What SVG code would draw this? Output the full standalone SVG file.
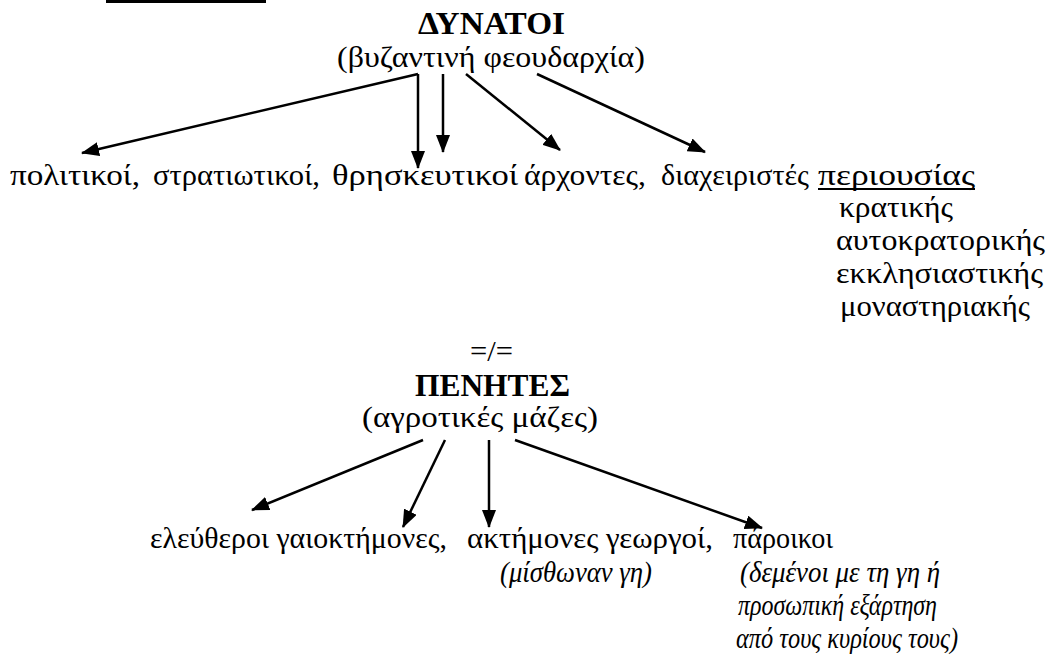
<svg xmlns="http://www.w3.org/2000/svg" width="1053" height="664" viewBox="0 0 1053 664">
<style>
text{font-family:"Liberation Serif","Times New Roman",serif;fill:#000;white-space:pre;}
.t{font-size:30px;}
.b{font-size:31px;font-weight:bold;}
.i{font-size:30px;font-style:italic;}
.arr{stroke:#000;stroke-width:2.5;fill:none;marker-end:url(#ah);}
</style>
<defs>
<marker id="ah" markerUnits="userSpaceOnUse" markerWidth="18" markerHeight="14" refX="17" refY="7" orient="auto">
<path d="M0,0 L18,7 L0,14 z" fill="#000"/>
</marker>
</defs>
<rect x="106" y="0" width="160" height="3" fill="#000"/>
<g id="dynatoi">
<text class="b" x="418" y="34" textLength="147" lengthAdjust="spacingAndGlyphs">ΔΥΝΑΤΟΙ</text>
<text class="t" x="337" y="67" textLength="308" lengthAdjust="spacingAndGlyphs">(βυζαντινή φεουδαρχία)</text>
</g>
<g id="dynatoi-types">
<text class="t" x="10" y="185" textLength="130" lengthAdjust="spacingAndGlyphs">πολιτικοί,</text>
<text class="t" x="153" y="185" textLength="167" lengthAdjust="spacingAndGlyphs">στρατιωτικοί,</text>
<text class="t" x="332" y="185" textLength="186" lengthAdjust="spacingAndGlyphs">θρησκευτικοί</text>
<text class="t" x="524" y="185" textLength="122" lengthAdjust="spacingAndGlyphs">άρχοντες,</text>
<text class="t" x="661" y="185" textLength="148" lengthAdjust="spacingAndGlyphs">διαχειριστές</text>
<text class="t" x="818" y="185" textLength="157" lengthAdjust="spacingAndGlyphs">περιουσίας</text>
<rect x="818" y="188" width="157" height="2" fill="#000"/>
</g>
<g id="property">
<text class="t" x="839" y="217" textLength="114" lengthAdjust="spacingAndGlyphs">κρατικής</text>
<text class="t" x="836" y="250" textLength="209" lengthAdjust="spacingAndGlyphs">αυτοκρατορικής</text>
<text class="t" x="836" y="283" textLength="207" lengthAdjust="spacingAndGlyphs">εκκλησιαστικής</text>
<text class="t" x="840" y="316" textLength="190" lengthAdjust="spacingAndGlyphs">μοναστηριακής</text>
</g>
<g id="neq">
<text class="t" x="470" y="361" textLength="43" lengthAdjust="spacingAndGlyphs">=/=</text>
</g>
<g id="penites">
<text class="b" x="415" y="396" textLength="155" lengthAdjust="spacingAndGlyphs">ΠΕΝΗΤΕΣ</text>
<text class="t" x="362" y="427" textLength="236" lengthAdjust="spacingAndGlyphs">(αγροτικές μάζες)</text>
</g>
<g id="penites-types">
<text class="t" x="150" y="548" textLength="297" lengthAdjust="spacingAndGlyphs">ελεύθεροι γαιοκτήμονες,</text>
<text class="t" x="467" y="548" textLength="246" lengthAdjust="spacingAndGlyphs">ακτήμονες γεωργοί,</text>
<text class="t" x="733" y="548" textLength="100" lengthAdjust="spacingAndGlyphs">πάροικοι</text>
<text class="i" x="500" y="582" textLength="152" lengthAdjust="spacingAndGlyphs">(μίσθωναν γη)</text>
<text class="i" x="740" y="582" textLength="200" lengthAdjust="spacingAndGlyphs">(δεμένοι με τη γη ή</text>
<text class="i" x="738" y="615" textLength="199" lengthAdjust="spacingAndGlyphs">προσωπική εξάρτηση</text>
<text class="i" x="736" y="648" textLength="222" lengthAdjust="spacingAndGlyphs">από τους κυρίους τους)</text>
</g>
<g id="connectors">
<line class="arr" x1="418" y1="74" x2="82" y2="153"/>
<line class="arr" x1="418" y1="74" x2="418" y2="168"/>
<line class="arr" x1="443" y1="74" x2="443" y2="152"/>
<line class="arr" x1="466" y1="74" x2="560" y2="150"/>
<line class="arr" x1="537" y1="74" x2="705" y2="152"/>
<line class="arr" x1="423" y1="440" x2="252" y2="510"/>
<line class="arr" x1="445" y1="440" x2="403" y2="527"/>
<line class="arr" x1="489" y1="440" x2="489" y2="527"/>
<line class="arr" x1="515" y1="440" x2="762" y2="528"/>
</g>
</svg>
